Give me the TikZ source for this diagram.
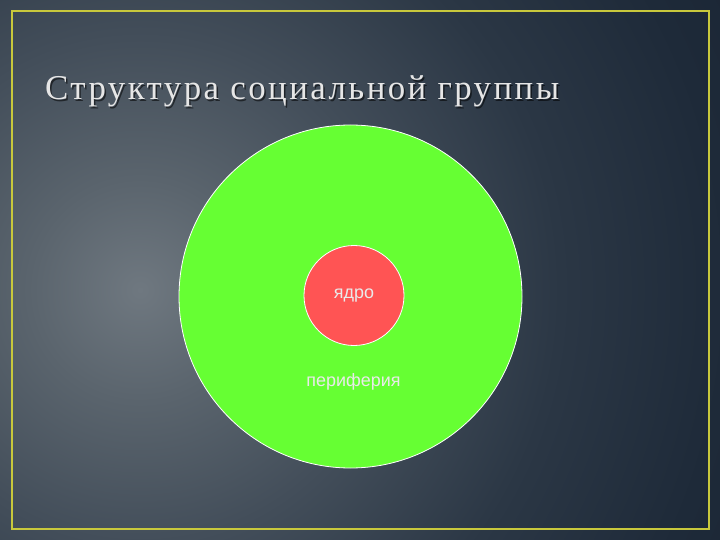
\documentclass[tikz,border=0pt]{standalone}
\usepackage{fontspec}
\setmainfont{Liberation Serif}
\newfontfamily\labelfont{Liberation Sans}
\newfontfamily\titlefont[LetterSpace=7]{Liberation Serif}
\definecolor{bgA}{HTML}{6F7880}
\definecolor{bgB}{HTML}{5A646D}
\definecolor{bgC}{HTML}{434E5A}
\definecolor{bgD}{HTML}{2B3745}
\definecolor{bgE}{HTML}{1E2A39}
\definecolor{bgF}{HTML}{1A2534}
\definecolor{frameC}{HTML}{C8C83C}
\definecolor{greenC}{HTML}{66FF33}
\definecolor{redC}{HTML}{FF5454}
\definecolor{titleC}{HTML}{E6E6E6}
\definecolor{labelC}{HTML}{EAEAEA}
\pgfdeclareradialshading{bgshade}{\pgfpoint{0bp}{0bp}}{color(0bp)=(bgA); color(4bp)=(bgB); color(9bp)=(bgC); color(15bp)=(bgD); color(21bp)=(bgE); color(25bp)=(bgF); color(50bp)=(bgF)}
\tikzset{
  disc/.style={circle, draw=white, line width=0.8bp, inner sep=0pt},
  lbl/.style={font=\labelfont\fontsize{18}{21}\selectfont, text=labelC, inner sep=0pt},
}
\begin{document}
\begin{tikzpicture}[x=1bp,y=-1bp]
\useasboundingbox (0,0) rectangle (720,540);
\begin{scope}
  \clip (0,0) rectangle (720,540);
  \shade[shading=bgshade] (140,290) circle[radius=700];
\end{scope}
\draw[frameC, line width=2bp] (12,11) rectangle (709,529);
% title
\node[anchor=base west, inner sep=0pt, text=black, opacity=0.55, font=\titlefont\fontsize{35}{40}\selectfont] at (46.5,101.5) {Структура социальной группы};
\node (title) [anchor=base west, inner sep=0pt, text=titleC, font=\titlefont\fontsize{35}{40}\selectfont] at (45,100) {Структура социальной группы};
% circles
\node (outer) [disc, fill=greenC, minimum size=343bp] at (350.5,296.5) {};
\node (core) [disc, fill=redC, minimum size=100bp] at (354,295.5) {};
\node (coretext) [lbl] at (core.center) {ядро};
\node (periph) [lbl] at (353.5,382) {периферия};
\end{tikzpicture}
\end{document}
